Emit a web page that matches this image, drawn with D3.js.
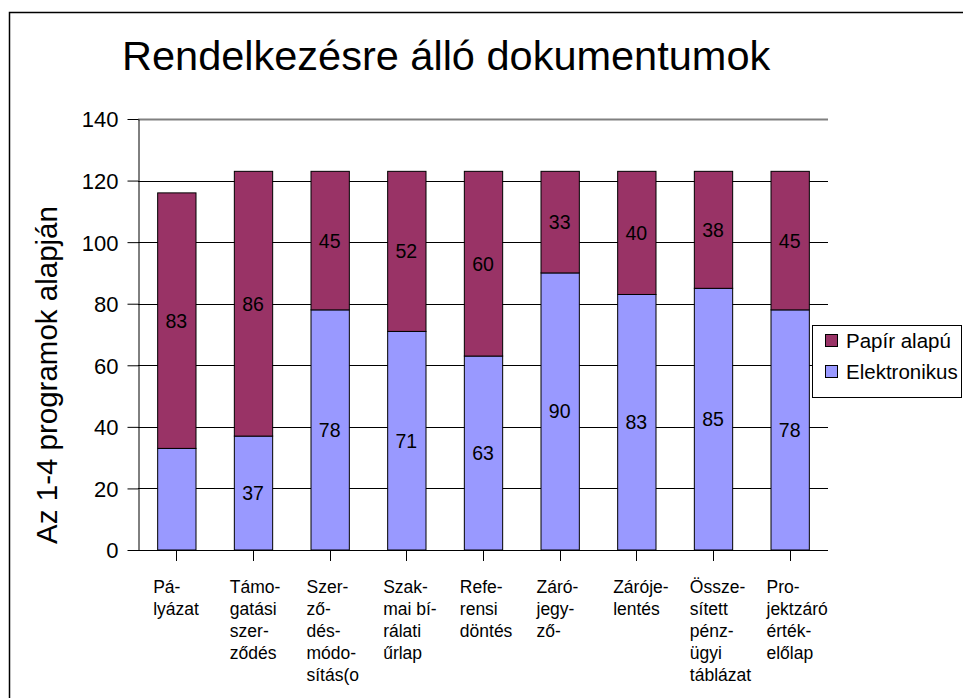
<!DOCTYPE html>
<html>
<head>
<meta charset="utf-8">
<script src="https://cdn.jsdelivr.net/npm/d3@7"></script>
<style>
  body { margin: 0; background: #fff; }
  svg { font-family: "Liberation Sans", Arial, sans-serif; }
</style>
</head>
<body>
<div id="chart"></div>
<script>
// Chart data
const categories = ['Pályázat', 'Támogatási szerződés', 'Szerződésmódosítás', 'Szakmai bírálati űrlap',
  'Referensi döntés', 'Zárójegyző', 'Zárójelentés', 'Összesített pénzügyi táblázat', 'Projektzáró értékelőlap'];
const categoryLines = [
  ['Pá-', 'lyázat'],
  ['Támo-', 'gatási', 'szer-', 'ződés'],
  ['Szer-', 'ző-', 'dés-', 'módo-', 'sítás(o'],
  ['Szak-', 'mai bí-', 'rálati', 'űrlap'],
  ['Refe-', 'rensi', 'döntés'],
  ['Záró-', 'jegy-', 'ző-'],
  ['Záróje-', 'lentés'],
  ['Össze-', 'sített', 'pénz-', 'ügyi', 'táblázat'],
  ['Pro-', 'jektzáró', 'érték-', 'előlap']
];
const elektronikus = [33, 37, 78, 71, 63, 90, 83, 85, 78];
const papir = [83, 86, 45, 52, 60, 33, 40, 38, 45];
const seriesNames = ['Elektronikus', 'Papír alapú'];
const yTicks = [0, 20, 40, 60, 80, 100, 120, 140];
// data labels not shown in the original (series index, category index)
const hiddenLabels = [[0, 0]];

const W = 963, H = 698;
const plot = { left: 138, right: 828, top: 119, bottom: 550 };
const colors = { 'Elektronikus': '#9999ff', 'Papír alapú': '#993366' };

const rows = categories.map((c, i) => ({ cat: c, 'Elektronikus': elektronikus[i], 'Papír alapú': papir[i] }));
const stacked = d3.stack().keys(seriesNames)(rows);

const x = d3.scaleBand()
  .domain(categories)
  .range([plot.left, plot.right])
  .paddingInner(0.5)
  .paddingOuter(0.25);

const y = d3.scaleLinear()
  .domain([0, 140])
  .range([plot.bottom, plot.top]);

const svg = d3.select('#chart').append('svg')
  .attr('width', W)
  .attr('height', H);

// outer frame
svg.append('rect')
  .attr('x', 9.5).attr('y', 12.5)
  .attr('width', W + 10).attr('height', H + 10)
  .attr('fill', '#fff').attr('stroke', '#000').attr('stroke-width', 1.5);

svg.append('text')
  .attr('x', 122).attr('y', 70)
  .attr('font-size', 41.5)
  .text('Rendelkezésre álló dokumentumok');

// gridlines
svg.append('g')
  .selectAll('line')
  .data(yTicks.filter(t => t > 0))
  .join('line')
  .attr('x1', plot.left).attr('x2', plot.right)
  .attr('y1', d => Math.round(y(d)) + 0.5).attr('y2', d => Math.round(y(d)) + 0.5)
  .attr('stroke', d => d === 140 ? '#808080' : '#000')
  .attr('stroke-width', d => d === 140 ? 2 : 1);

// y axis
const yAxis = svg.append('g')
  .attr('transform', `translate(${plot.left + 0.5},0)`)
  .call(d3.axisLeft(y).tickValues(yTicks).tickSize(11).tickPadding(9).tickSizeOuter(0));
yAxis.select('.domain').attr('stroke', '#000');
yAxis.selectAll('.tick line').attr('stroke', '#000');
yAxis.selectAll('.tick text')
  .attr('font-size', 22).attr('fill', '#000').attr('font-family', null)
  .attr('dy', '0.36em');

svg.append('text')
  .attr('transform', 'translate(57,375) rotate(-90)')
  .attr('text-anchor', 'middle')
  .attr('font-size', 29.5)
  .text('Az 1-4 programok alapján');

// bars
const groups = svg.append('g')
  .selectAll('g')
  .data(stacked)
  .join('g')
  .attr('fill', d => colors[d.key]);

groups.selectAll('rect')
  .data(d => d)
  .join('rect')
  .attr('x', d => x(d.data.cat) + 0.5)
  .attr('y', d => y(d[1]))
  .attr('width', x.bandwidth())
  .attr('height', d => y(d[0]) - y(d[1]))
  .attr('stroke', '#000')
  .attr('stroke-width', 1);

// value labels
stacked.forEach((s, si) => {
  svg.append('g')
    .selectAll('text')
    .data(s.filter((d, ci) => !hiddenLabels.some(h => h[0] === si && h[1] === ci)))
    .join('text')
    .attr('x', d => x(d.data.cat) + x.bandwidth() / 2)
    .attr('y', d => y((d[0] + d[1]) / 2))
    .attr('dy', '0.36em')
    .attr('text-anchor', 'middle')
    .attr('font-size', 19.5)
    .text(d => d[1] - d[0]);
});

// x axis
svg.append('line')
  .attr('x1', plot.left).attr('x2', plot.right)
  .attr('y1', plot.bottom + 0.5).attr('y2', plot.bottom + 0.5)
  .attr('stroke', '#000');

svg.append('g')
  .selectAll('line')
  .data(categories)
  .join('line')
  .attr('x1', d => Math.round(x(d) + x.bandwidth() / 2) + 0.5)
  .attr('x2', d => Math.round(x(d) + x.bandwidth() / 2) + 0.5)
  .attr('y1', plot.bottom).attr('y2', plot.bottom + 11)
  .attr('stroke', '#000');

const xLabels = svg.append('g')
  .selectAll('text')
  .data(categories)
  .join('text')
  .attr('x', d => x(d) - 4)
  .attr('y', 593)
  .attr('font-size', 17.5);

xLabels.selectAll('tspan')
  .data((d, i) => categoryLines[i])
  .join('tspan')
  .attr('x', function () { return this.parentNode.getAttribute('x'); })
  .attr('dy', (d, i) => i === 0 ? 0 : 22)
  .text(d => d);

// legend
const legend = svg.append('g');
legend.append('rect')
  .attr('x', 812.5).attr('y', 325.5)
  .attr('width', 149).attr('height', 72)
  .attr('fill', '#fff').attr('stroke', '#000');

const legendItems = seriesNames.slice().reverse();
legendItems.forEach((name, i) => {
  legend.append('rect')
    .attr('x', 825.5).attr('y', 334.5 + i * 31)
    .attr('width', 12).attr('height', 12)
    .attr('fill', colors[name]).attr('stroke', '#000');
  legend.append('text')
    .attr('x', 846).attr('y', 348 + i * 31)
    .attr('font-size', 20.5)
    .text(name);
});
</script>
</body>
</html>
